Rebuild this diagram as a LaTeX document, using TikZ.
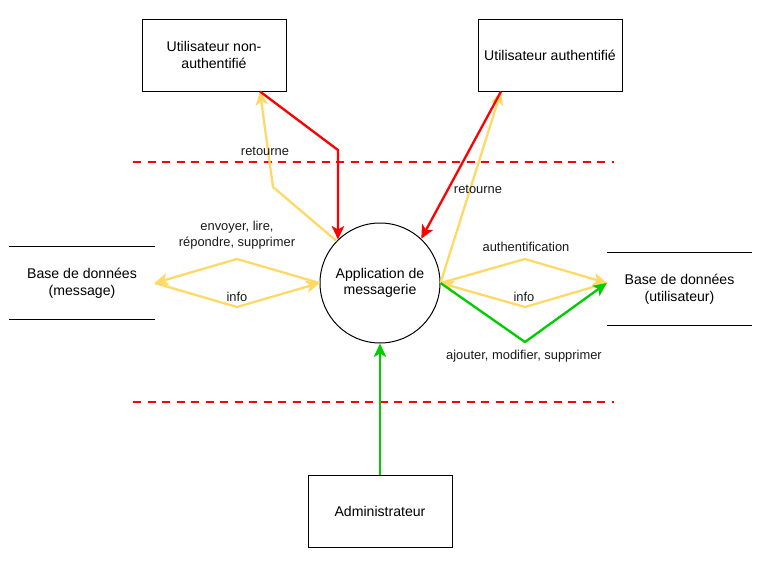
\documentclass[tikz,border=0pt]{standalone}
\usepackage{fontspec}
\setmainfont{Liberation Sans}
\usetikzlibrary{arrows.meta}
\definecolor{yel}{HTML}{FFD966}
\definecolor{grn}{HTML}{00CC00}
\definecolor{rd}{HTML}{FF0000}
\tikzset{
  boxnode/.style={draw, line width=1pt, minimum width=144pt, minimum height=72pt, inner sep=2pt, align=center, font=\fontsize{14.1}{16.7}\selectfont},
  dbnode/.style={minimum width=145pt, minimum height=72pt, inner sep=0pt, align=center, font=\fontsize{14.1}{16.7}\selectfont},
  dbline/.style={line width=1.1pt},
  lbl/.style={font=\fontsize{12.9}{15.5}\selectfont, align=center, text=black!90, inner sep=1pt},
  tipstyle/.style={-{Stealth[length=13.5pt,width=12.5pt,inset=3.5pt]}},
  yarrow/.style={tipstyle, draw=yel, line width=2.3pt, line join=miter},
  rarrow/.style={tipstyle, draw=rd, line width=2.3pt},
  garrow/.style={tipstyle, draw=grn, line width=2.3pt},
  sep/.style={draw=rd, line width=2.3pt, dash pattern=on 8pt off 6.5pt}
}
\begin{document}
\begin{tikzpicture}[x=1pt,y=-1pt]
\useasboundingbox (0,0) rectangle (758,565);
% separators
\coordinate (s1a) at (133,162);
\coordinate (s1b) at (614,162);
\coordinate (s2a) at (133,402);
\coordinate (s2b) at (614,402);
\draw[sep] (s1a) -- (s1b);
\draw[sep] (s2a) -- (s2b);
% nodes
\node[boxnode] (b1) at (214,55) {Utilisateur non-\\authentifié};
\node[boxnode] (b2) at (550,55) {Utilisateur authentifié};
\node[boxnode] (adm) at (380,511) {Administrateur};
\node[draw, circle, line width=1pt, minimum size=120pt, inner sep=0pt, align=center, font=\fontsize{14.1}{16.7}\selectfont] (app) at (380,283) {Application de\\messagerie};
\node[dbnode] (dbm) at (82,283) {Base de données\\(message)};
\node[dbnode] (dbu) at (679.5,289) {Base de données\\(utilisateur)};
\draw[dbline] (dbm.north west) -- (dbm.north east);
\draw[dbline] (dbm.south west) -- (dbm.south east);
\draw[dbline] (dbu.north west) -- (dbu.north east);
\draw[dbline] (dbu.south west) -- (dbu.south east);
% anchor points
\coordinate (b1p) at ([xshift=46pt]b1.south);
\coordinate (b2p) at ([xshift=-49pt]b2.south);
\coordinate (dbuP) at ([yshift=6pt]dbu.west);
% left user
\draw[yarrow] (app.136) -- (273,187) -- (b1p);
\draw[rarrow] (b1p) -- (app.134 |- 0,150) -- (app.134);
% right user
\draw[yarrow] (app.east) -- (b2p);
\draw[rarrow] (b2p) -- (app.47);
% message db
\draw[yarrow] (app.west) -- (237,259) -- (dbm.east);
\draw[yarrow] (dbm.east) -- (237,307) -- (app.west);
% user db
\draw[yarrow] (app.east) -- (525,259) -- (dbuP);
\draw[yarrow] (dbuP) -- (525,307) -- (app.east);
\draw[garrow] (app.east) -- (525,342) -- (dbuP);
% admin
\draw[garrow] (adm.north) -- (app.south);
% labels
\node[lbl] (l1) at (265,151) {retourne};
\node[lbl] (l2) at (478,189) {retourne};
\node[lbl] (l3) at (237,235) {envoyer, lire,\\répondre, supprimer};
\node[lbl] (l4) at (237,297) {info};
\node[lbl] (l5) at (526,247) {authentification};
\node[lbl] (l6) at (524,297) {info};
\node[lbl] (l7) at (524,356) {ajouter, modifier, supprimer};
\end{tikzpicture}
\end{document}
